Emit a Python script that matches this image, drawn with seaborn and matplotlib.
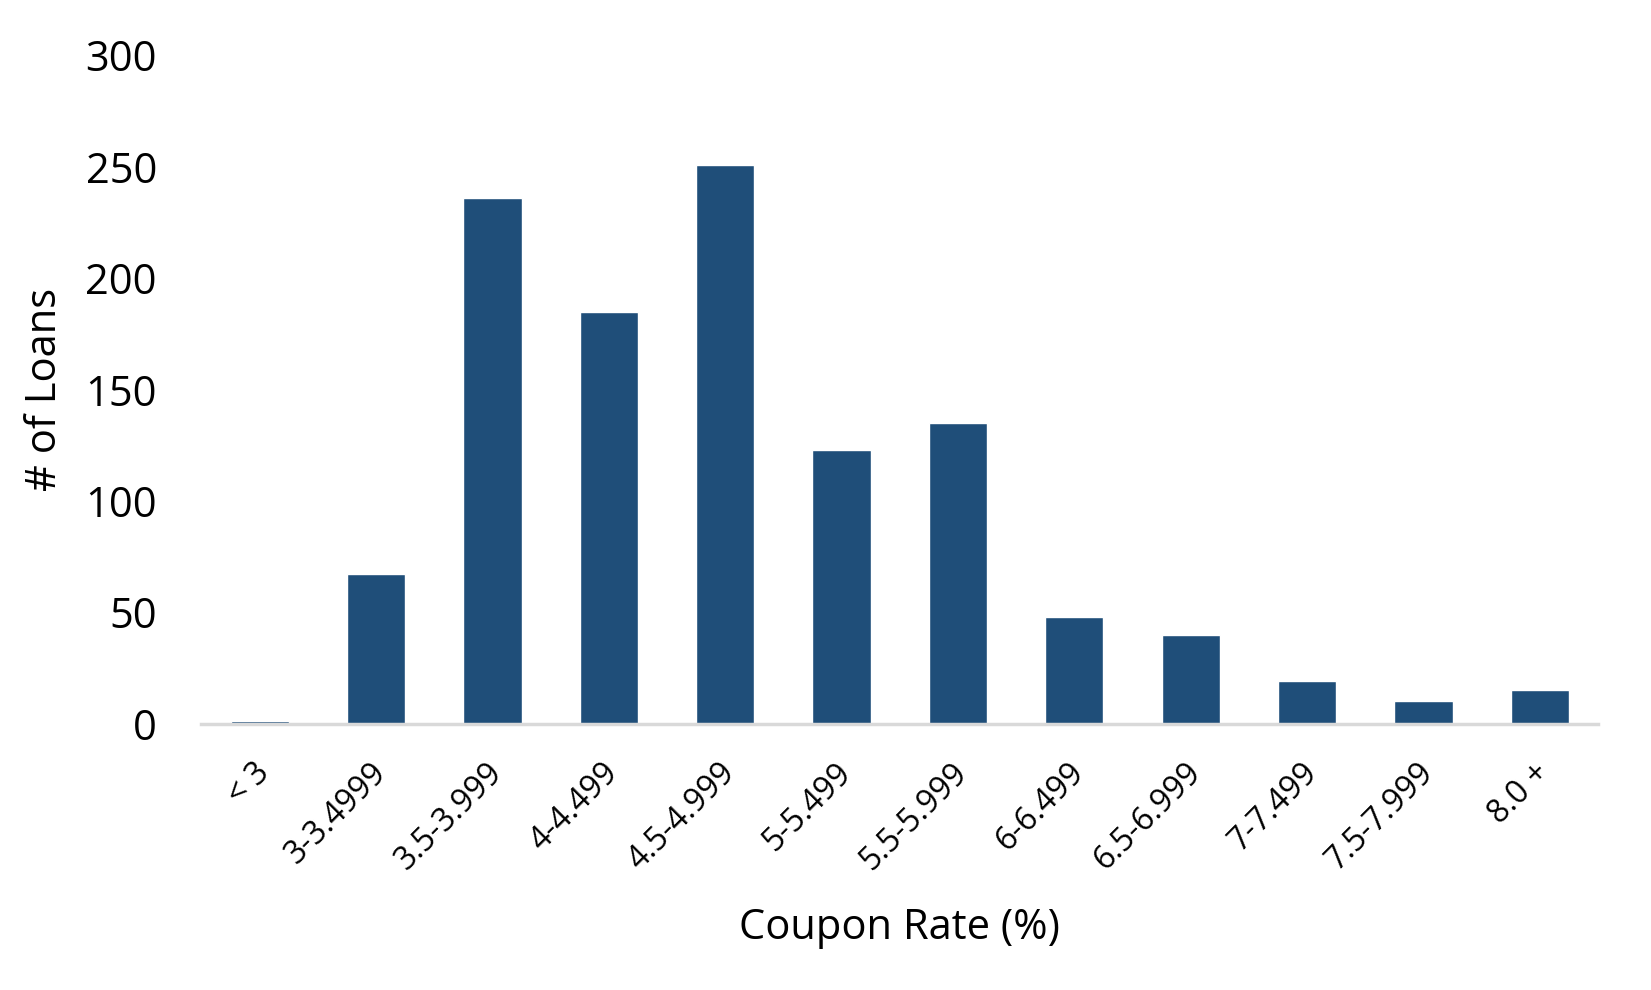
import matplotlib.pyplot as plt
import matplotlib.transforms as mtransforms
import seaborn as sns

# Coupon rate buckets and loan counts
buckets = ['< 3', '3-3.4999', '3.5-3.999', '4-4.499', '4.5-4.999', '5-5.499',
           '5.5-5.999', '6-6.499', '6.5-6.999', '7-7.499', '7.5-7.999', '8.0 +']
loans = [1, 67, 236, 185, 251, 123, 135, 48, 40, 19, 10, 15]

sns.set_style('white')
plt.rcParams['font.family'] = ['Open Sans', 'DejaVu Sans']
plt.rcParams['text.color'] = 'black'
plt.rcParams['xtick.color'] = 'black'
plt.rcParams['ytick.color'] = 'black'
plt.rcParams['axes.labelcolor'] = 'black'

fig = plt.figure(figsize=(16.51, 9.9), dpi=100)
ax = fig.add_axes([0.122, 0.269, 0.846, 0.675])

sns.barplot(x=buckets, y=loans, color='#1F4E79', saturation=1, width=0.5, ax=ax)

ax.set_ylim(0, 300)
ax.set_xlim(-0.5, 11.5)
ax.set_yticks([0, 50, 100, 150, 200, 250, 300])
ax.tick_params(axis='y', length=0, pad=32, labelsize=30)
ax.tick_params(axis='x', length=0, pad=32, labelsize=23)
shift = mtransforms.ScaledTranslation(0.05, 0, fig.dpi_scale_trans)
for lbl in ax.get_xticklabels():
    lbl.set_rotation(45)
    lbl.set_ha('right')
    lbl.set_va('center')
    lbl.set_rotation_mode('anchor')
    lbl.set_transform(lbl.get_transform() + shift)

for s in ['top', 'right', 'left']:
    ax.spines[s].set_visible(False)
ax.spines['bottom'].set_color('#D9D9D9')
ax.spines['bottom'].set_linewidth(2.5)

ax.set_xlabel('Coupon Rate (%)', fontsize=30, labelpad=22)
ax.set_ylabel('# of Loans', fontsize=30, labelpad=14)

fig.savefig('out.png', dpi=100)
